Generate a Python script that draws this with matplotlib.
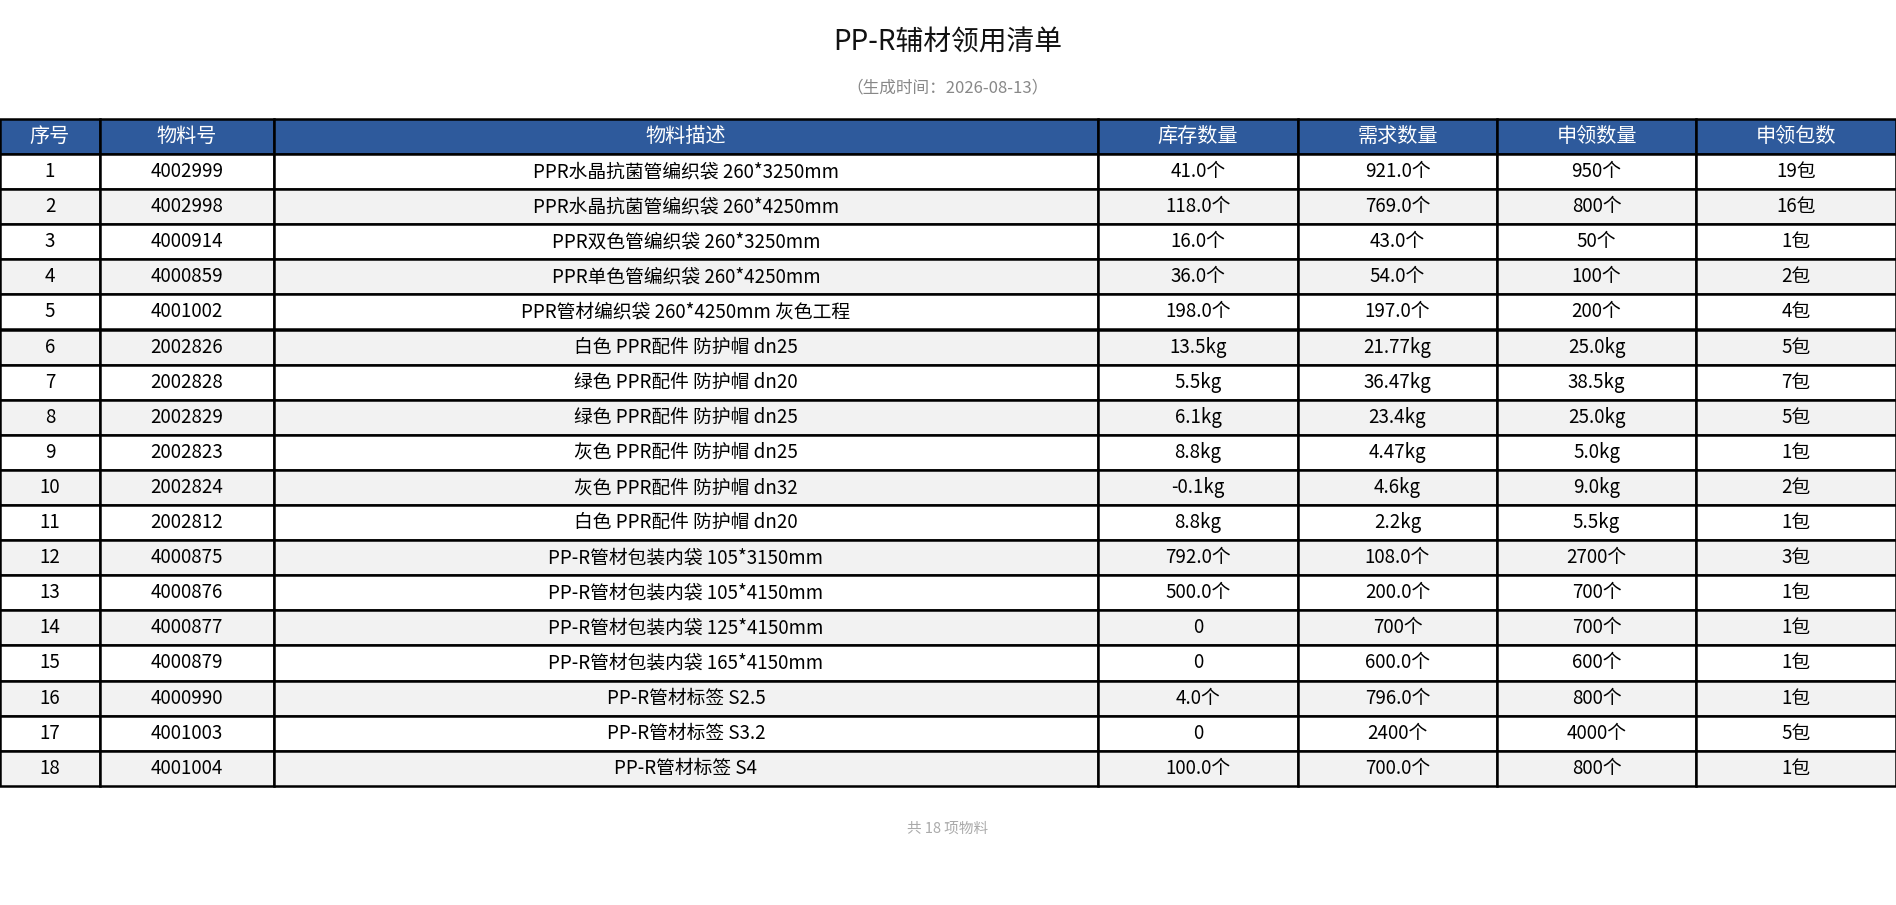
import matplotlib.pyplot as plt
from matplotlib.patches import Rectangle

plt.rcParams['font.family'] = ['Noto Sans CJK SC', 'DejaVu Sans']

title = 'PP-R辅材领用清单'
subtitle = '（生成时间：2026-08-13）'
footer = '共 18 项物料'

headers = ['序号', '物料号', '物料描述', '库存数量', '需求数量', '申领数量', '申领包数']

codes = ['4002999', '4002998', '4000914', '4000859', '4001002', '2002826', '2002828',
         '2002829', '2002823', '2002824', '2002812', '4000875', '4000876', '4000877',
         '4000879', '4000990', '4001003', '4001004']
descs = ['PPR水晶抗菌管编织袋 260*3250mm', 'PPR水晶抗菌管编织袋 260*4250mm',
         'PPR双色管编织袋 260*3250mm', 'PPR单色管编织袋 260*4250mm',
         'PPR管材编织袋 260*4250mm 灰色工程', '白色 PPR配件 防护帽 dn25',
         '绿色 PPR配件 防护帽 dn20', '绿色 PPR配件 防护帽 dn25',
         '灰色 PPR配件 防护帽 dn25', '灰色 PPR配件 防护帽 dn32',
         '白色 PPR配件 防护帽 dn20', 'PP-R管材包装内袋 105*3150mm',
         'PP-R管材包装内袋 105*4150mm', 'PP-R管材包装内袋 125*4150mm',
         'PP-R管材包装内袋 165*4150mm', 'PP-R管材标签 S2.5',
         'PP-R管材标签 S3.2', 'PP-R管材标签 S4']
stock = ['41.0个', '118.0个', '16.0个', '36.0个', '198.0个', '13.5kg', '5.5kg', '6.1kg',
         '8.8kg', '-0.1kg', '8.8kg', '792.0个', '500.0个', '0', '0', '4.0个', '0', '100.0个']
demand = ['921.0个', '769.0个', '43.0个', '54.0个', '197.0个', '21.77kg', '36.47kg', '23.4kg',
          '4.47kg', '4.6kg', '2.2kg', '108.0个', '200.0个', '700个', '600.0个', '796.0个',
          '2400个', '700.0个']
request = ['950个', '800个', '50个', '100个', '200个', '25.0kg', '38.5kg', '25.0kg', '5.0kg',
           '9.0kg', '5.5kg', '2700个', '700个', '700个', '600个', '800个', '4000个', '800个']
packs = ['19包', '16包', '1包', '2包', '4包', '5包', '7包', '5包', '1包', '2包', '1包',
         '3包', '1包', '1包', '1包', '1包', '5包', '1包']

W, H = 1896, 905
col_edges = [0, 100, 274, 1098, 1298, 1497, 1696, 1896]
table_top = 119
header_h = 35
row_h = 35.1

fig = plt.figure(figsize=(W / 100, H / 100), dpi=100)
ax = fig.add_axes([0, 0, 1, 1])
ax.set_xlim(0, W)
ax.set_ylim(H, 0)
ax.axis('off')

ax.text(W / 2, 43, title, ha='center', va='center', fontsize=20, color='#111111')
ax.text(W / 2, 88, subtitle, ha='center', va='center', fontsize=12, color='#888888')

# header row
for c in range(len(headers)):
    x0, x1 = col_edges[c], col_edges[c + 1]
    ax.add_patch(Rectangle((x0, table_top), x1 - x0, header_h, facecolor='#2E5A9C',
                           edgecolor='black', linewidth=1.8))
    ax.text((x0 + x1) / 2, table_top + header_h / 2, headers[c], ha='center', va='center',
            fontsize=14.5, color='white')

# data rows
for r in range(len(codes)):
    y = table_top + header_h + r * row_h
    fill = '#F2F2F2' if r % 2 == 1 else 'white'
    vals = [str(r + 1), codes[r], descs[r], stock[r], demand[r], request[r], packs[r]]
    for c, v in enumerate(vals):
        x0, x1 = col_edges[c], col_edges[c + 1]
        ax.add_patch(Rectangle((x0, y), x1 - x0, row_h, facecolor=fill,
                               edgecolor='black', linewidth=1.8))
        ax.text((x0 + x1) / 2, y + row_h / 2, v, ha='center', va='center',
                fontsize=13.5, color='black')

bottom = table_top + header_h + len(codes) * row_h
ax.text(W / 2, bottom + 43, footer, ha='center', va='center', fontsize=10.5, color='#AAAAAA')

fig.savefig('out.png', dpi=100)
